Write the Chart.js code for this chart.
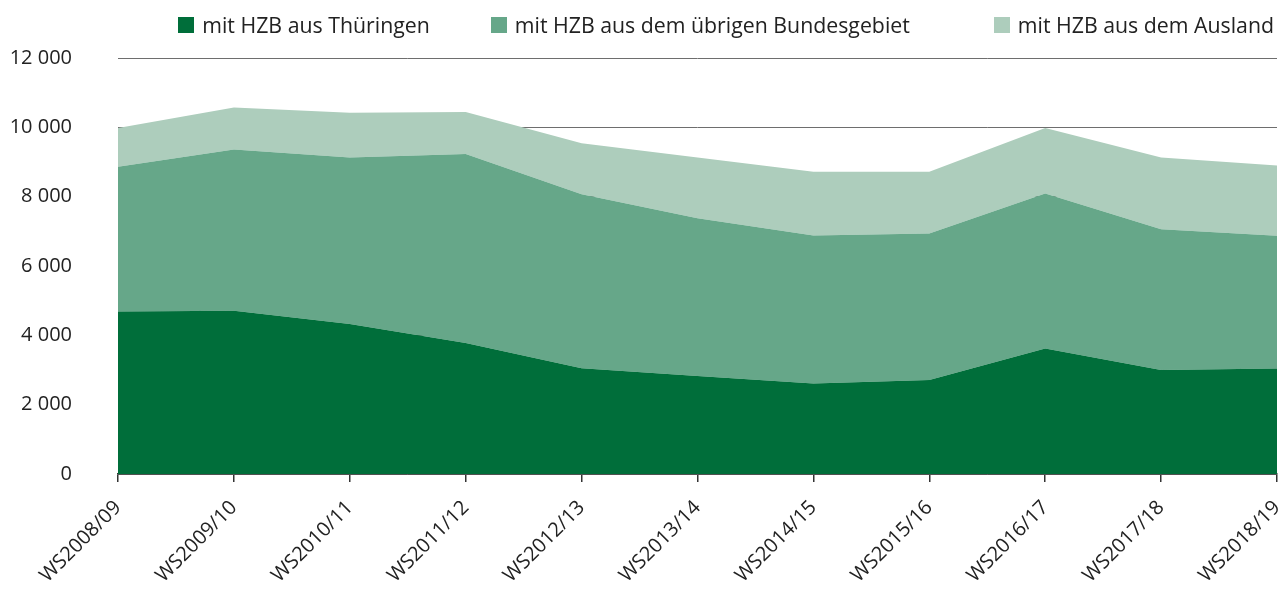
<!DOCTYPE html>
<html>
<head>
<meta charset="utf-8">
<script src="https://cdn.jsdelivr.net/npm/chart.js@4"></script>
<style>
  body { margin: 0; background: #fff; }
  #wrap { position: relative; width: 1286px; height: 592px; }
  #legend {
    position: absolute; top: 10px; right: 12px;
    display: flex;
    font-family: "Open Sans", sans-serif; font-size: 21.3px; color: #222;
  }
  #legend span.item { display: flex; align-items: center; gap: 8px; }
  #legend span.box { width: 16px; height: 16px; display: inline-block; }
</style>
</head>
<body>
<div id="wrap">
  <canvas id="Chart" width="1286" height="592"></canvas>
  <div id="legend"></div>
</div>
<script>
const semester = ["WS2008/09", "WS2009/10", "WS2010/11", "WS2011/12", "WS2012/13", "WS2013/14",
  "WS2014/15", "WS2015/16", "WS2016/17", "WS2017/18", "WS2018/19"];
const thueringen = [4690, 4710, 4330, 3780, 3050, 2830, 2610, 2710, 3620, 3000, 3040];
const bundesgebiet = [4170, 4650, 4800, 5450, 5020, 4550, 4270, 4230, 4470, 4060, 3830];
const ausland = [1120, 1210, 1290, 1210, 1470, 1750, 1840, 1780, 1890, 2070, 2030];

const labels = ["mit HZB aus Thüringen", "mit HZB aus dem übrigen Bundesgebiet", "mit HZB aus dem Ausland"];
const farger = ["rgb(0, 110, 58)", "rgb(102, 167, 137)", "rgb(173, 205, 188)"];
const legendAvstand = [0, 61, 84]; // avstand foran hvert element

const fontFam = '"Open Sans", sans-serif';
const tekst = "#222";

// legende i html
const legend = document.getElementById("legend");
labels.forEach((l, i) => {
  legend.innerHTML += '<span class="item" style="margin-left:' + legendAvstand[i] + 'px"><span class="box" style="background:' +
    farger[i] + '"></span>' + l + "</span>";
});

const lagDataset = (label, data, i) => {
  return {
    label: label,
    data: data,
    backgroundColor: farger[i],
    borderColor: farger[i],
    borderWidth: 0,
    pointRadius: 0,
    fill: i === 0 ? "origin" : "-1",
    tension: 0,
  };
};

const ctx = document.getElementById("Chart").getContext("2d");
new Chart(ctx, {
  type: "line",
  data: {
    labels: semester,
    datasets: [
      lagDataset(labels[0], thueringen, 0),
      lagDataset(labels[1], bundesgebiet, 1),
      lagDataset(labels[2], ausland, 2),
    ],
  },
  options: {
    responsive: false,
    animation: false,
    layout: { padding: { top: 58, right: 9, left: 0, bottom: 0 } },
    plugins: { legend: { display: false }, tooltip: { enabled: false } },
    scales: {
      x: {
        offset: false,
        grid: { drawOnChartArea: false, drawTicks: true, tickLength: 8, color: "#333", lineWidth: 1.5 },
        border: { display: true, color: "#333", width: 1.5 },
        ticks: {
          minRotation: 45, maxRotation: 45, padding: 14,
          color: tekst, font: { family: fontFam, size: 20 },
        },
        afterFit: (scale) => {
          scale.height = 118;
          scale.paddingRight = 0;
          scale.paddingLeft = 0;
        },
      },
      y: {
        stacked: true,
        min: 0, max: 12000,
        grid: { drawTicks: false, color: "#6e6e6e", lineWidth: 1 },
        border: { display: false },
        ticks: {
          stepSize: 2000, padding: 46,
          color: tekst, font: { family: fontFam, size: 20 },
          callback: (v) => String(v).replace(/\B(?=(\d{3})+(?!\d))/g, " "),
        },
        afterFit: (scale) => { scale.width = 118; },
      },
    },
  },
});
</script>
</body>
</html>
